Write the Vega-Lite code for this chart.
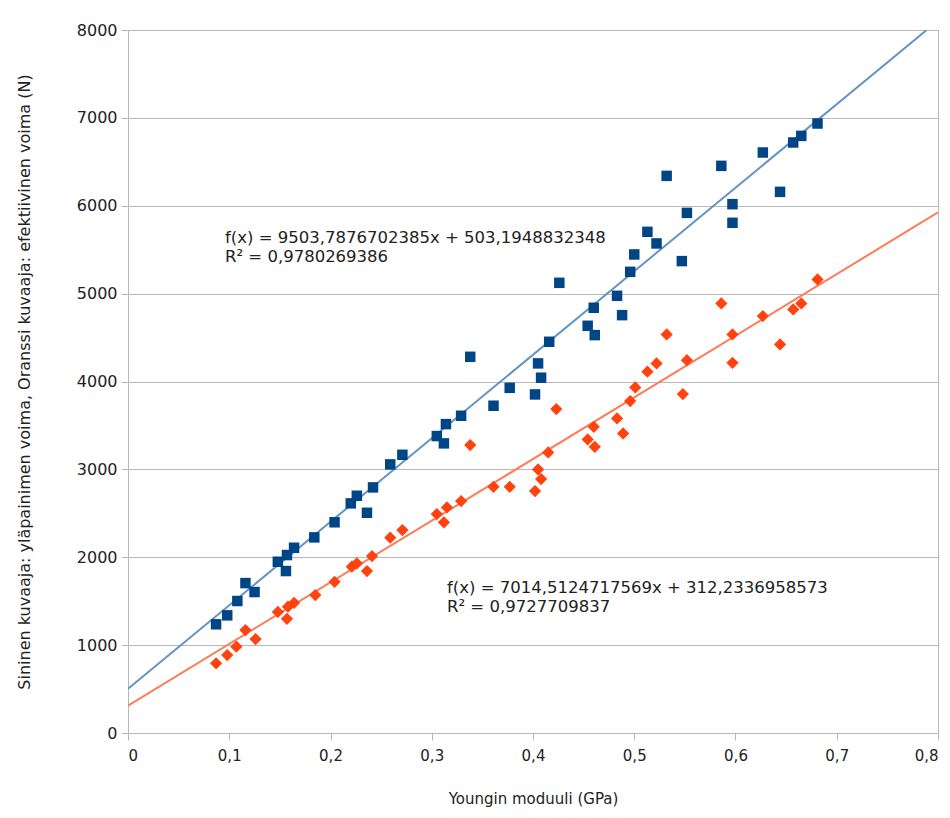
{
  "$schema": "https://vega.github.io/schema/vega-lite/v6.json",
  "width": 810,
  "height": 703,
  "autosize": {"type": "none"},
  "padding": {"left": 128, "top": 30, "right": 12, "bottom": 85},
  "background": "white",
  "config": {
    "view": {"stroke": "#b8b8b8", "strokeWidth": 1},
    "font": "DejaVu Sans",
    "axis": {
      "domainColor": "#b8b8b8",
      "tickColor": "#b8b8b8",
      "gridColor": "#b8b8b8",
      "labelColor": "#222222",
      "titleColor": "#222222",
      "labelFont": "DejaVu Sans",
      "titleFont": "DejaVu Sans",
      "labelFontSize": 15,
      "titleFontSize": 15,
      "titleFontWeight": "normal",
      "tickSize": 7
    }
  },
  "datasets": {
    "mittaukset": [
      {"E": 0.087, "F": 1237, "sarja": "Sininen"},
      {"E": 0.098, "F": 1339, "sarja": "Sininen"},
      {"E": 0.108, "F": 1502, "sarja": "Sininen"},
      {"E": 0.116, "F": 1706, "sarja": "Sininen"},
      {"E": 0.125, "F": 1604, "sarja": "Sininen"},
      {"E": 0.148, "F": 1949, "sarja": "Sininen"},
      {"E": 0.157, "F": 2025, "sarja": "Sininen"},
      {"E": 0.156, "F": 1843, "sarja": "Sininen"},
      {"E": 0.164, "F": 2108, "sarja": "Sininen"},
      {"E": 0.184, "F": 2226, "sarja": "Sininen"},
      {"E": 0.204, "F": 2398, "sarja": "Sininen"},
      {"E": 0.220, "F": 2613, "sarja": "Sininen"},
      {"E": 0.226, "F": 2700, "sarja": "Sininen"},
      {"E": 0.236, "F": 2506, "sarja": "Sininen"},
      {"E": 0.242, "F": 2795, "sarja": "Sininen"},
      {"E": 0.259, "F": 3057, "sarja": "Sininen"},
      {"E": 0.271, "F": 3166, "sarja": "Sininen"},
      {"E": 0.305, "F": 3379, "sarja": "Sininen"},
      {"E": 0.312, "F": 3296, "sarja": "Sininen"},
      {"E": 0.314, "F": 3515, "sarja": "Sininen"},
      {"E": 0.329, "F": 3610, "sarja": "Sininen"},
      {"E": 0.338, "F": 4281, "sarja": "Sininen"},
      {"E": 0.361, "F": 3724, "sarja": "Sininen"},
      {"E": 0.377, "F": 3928, "sarja": "Sininen"},
      {"E": 0.402, "F": 3853, "sarja": "Sininen"},
      {"E": 0.405, "F": 4206, "sarja": "Sininen"},
      {"E": 0.408, "F": 4043, "sarja": "Sininen"},
      {"E": 0.416, "F": 4452, "sarja": "Sininen"},
      {"E": 0.426, "F": 5123, "sarja": "Sininen"},
      {"E": 0.454, "F": 4634, "sarja": "Sininen"},
      {"E": 0.460, "F": 4839, "sarja": "Sininen"},
      {"E": 0.461, "F": 4528, "sarja": "Sininen"},
      {"E": 0.483, "F": 4975, "sarja": "Sininen"},
      {"E": 0.488, "F": 4755, "sarja": "Sininen"},
      {"E": 0.496, "F": 5248, "sarja": "Sininen"},
      {"E": 0.500, "F": 5446, "sarja": "Sininen"},
      {"E": 0.513, "F": 5703, "sarja": "Sininen"},
      {"E": 0.522, "F": 5571, "sarja": "Sininen"},
      {"E": 0.532, "F": 6340, "sarja": "Sininen"},
      {"E": 0.547, "F": 5370, "sarja": "Sininen"},
      {"E": 0.552, "F": 5919, "sarja": "Sininen"},
      {"E": 0.586, "F": 6454, "sarja": "Sininen"},
      {"E": 0.597, "F": 6018, "sarja": "Sininen"},
      {"E": 0.597, "F": 5806, "sarja": "Sininen"},
      {"E": 0.627, "F": 6606, "sarja": "Sininen"},
      {"E": 0.644, "F": 6158, "sarja": "Sininen"},
      {"E": 0.657, "F": 6720, "sarja": "Sininen"},
      {"E": 0.665, "F": 6795, "sarja": "Sininen"},
      {"E": 0.681, "F": 6936, "sarja": "Sininen"},
      {"E": 0.087, "F": 793, "sarja": "Oranssi"},
      {"E": 0.098, "F": 887, "sarja": "Oranssi"},
      {"E": 0.107, "F": 982, "sarja": "Oranssi"},
      {"E": 0.116, "F": 1172, "sarja": "Oranssi"},
      {"E": 0.126, "F": 1069, "sarja": "Oranssi"},
      {"E": 0.148, "F": 1377, "sarja": "Oranssi"},
      {"E": 0.157, "F": 1300, "sarja": "Oranssi"},
      {"E": 0.158, "F": 1437, "sarja": "Oranssi"},
      {"E": 0.164, "F": 1482, "sarja": "Oranssi"},
      {"E": 0.185, "F": 1570, "sarja": "Oranssi"},
      {"E": 0.204, "F": 1721, "sarja": "Oranssi"},
      {"E": 0.221, "F": 1892, "sarja": "Oranssi"},
      {"E": 0.226, "F": 1931, "sarja": "Oranssi"},
      {"E": 0.236, "F": 1843, "sarja": "Oranssi"},
      {"E": 0.241, "F": 2014, "sarja": "Oranssi"},
      {"E": 0.259, "F": 2222, "sarja": "Oranssi"},
      {"E": 0.271, "F": 2309, "sarja": "Oranssi"},
      {"E": 0.305, "F": 2491, "sarja": "Oranssi"},
      {"E": 0.312, "F": 2397, "sarja": "Oranssi"},
      {"E": 0.315, "F": 2567, "sarja": "Oranssi"},
      {"E": 0.329, "F": 2639, "sarja": "Oranssi"},
      {"E": 0.338, "F": 3276, "sarja": "Oranssi"},
      {"E": 0.361, "F": 2802, "sarja": "Oranssi"},
      {"E": 0.377, "F": 2802, "sarja": "Oranssi"},
      {"E": 0.402, "F": 2753, "sarja": "Oranssi"},
      {"E": 0.405, "F": 3000, "sarja": "Oranssi"},
      {"E": 0.408, "F": 2890, "sarja": "Oranssi"},
      {"E": 0.415, "F": 3193, "sarja": "Oranssi"},
      {"E": 0.423, "F": 3686, "sarja": "Oranssi"},
      {"E": 0.454, "F": 3341, "sarja": "Oranssi"},
      {"E": 0.460, "F": 3485, "sarja": "Oranssi"},
      {"E": 0.461, "F": 3257, "sarja": "Oranssi"},
      {"E": 0.483, "F": 3580, "sarja": "Oranssi"},
      {"E": 0.489, "F": 3409, "sarja": "Oranssi"},
      {"E": 0.496, "F": 3777, "sarja": "Oranssi"},
      {"E": 0.501, "F": 3933, "sarja": "Oranssi"},
      {"E": 0.513, "F": 4111, "sarja": "Oranssi"},
      {"E": 0.522, "F": 4206, "sarja": "Oranssi"},
      {"E": 0.532, "F": 4536, "sarja": "Oranssi"},
      {"E": 0.548, "F": 3857, "sarja": "Oranssi"},
      {"E": 0.552, "F": 4243, "sarja": "Oranssi"},
      {"E": 0.586, "F": 4889, "sarja": "Oranssi"},
      {"E": 0.597, "F": 4536, "sarja": "Oranssi"},
      {"E": 0.597, "F": 4213, "sarja": "Oranssi"},
      {"E": 0.627, "F": 4744, "sarja": "Oranssi"},
      {"E": 0.644, "F": 4422, "sarja": "Oranssi"},
      {"E": 0.657, "F": 4820, "sarja": "Oranssi"},
      {"E": 0.665, "F": 4889, "sarja": "Oranssi"},
      {"E": 0.681, "F": 5162, "sarja": "Oranssi"}
    ],
    "trendit": [
      {"E": 0, "F": 503.1948832348, "sarja": "Sininen"},
      {"E": 0.78884, "F": 8000, "sarja": "Sininen"},
      {"E": 0, "F": 312.2336958573, "sarja": "Oranssi"},
      {"E": 0.8, "F": 5923.8436732628, "sarja": "Oranssi"}
    ],
    "yhtalot": [
      {"E": 0.0958, "F": 5576, "teksti": "f(x) = 9503,7876702385x + 503,1948832348"},
      {"E": 0.0958, "F": 5360, "teksti": "R² = 0,9780269386"},
      {"E": 0.3151, "F": 1593, "teksti": "f(x) = 7014,5124717569x + 312,2336958573"},
      {"E": 0.3151, "F": 1377, "teksti": "R² = 0,9727709837"}
    ]
  },
  "encoding": {
    "x": {
      "field": "E",
      "type": "quantitative",
      "scale": {"domain": [0, 0.8], "nice": false, "zero": true},
      "axis": {
        "title": "Youngin moduuli (GPa)",
        "values": [0, 0.1, 0.2, 0.3, 0.4, 0.5, 0.6, 0.7, 0.8],
        "labelExpr": "datum.value == 0 ? '0' : replace(format(datum.value, '.1f'), '.', ',')",
        "grid": false,
        "labelPadding": 8,
        "titlePadding": 28
      }
    },
    "y": {
      "field": "F",
      "type": "quantitative",
      "scale": {"domain": [0, 8000], "nice": false},
      "axis": {
        "title": "Sininen kuvaaja: yläpainimen voima, Oranssi kuvaaja: efektiivinen voima (N)",
        "titleFontSize": 16,
        "labelFontSize": 16,
        "values": [0, 1000, 2000, 3000, 4000, 5000, 6000, 7000, 8000],
        "format": "d",
        "grid": true,
        "labelPadding": 4,
        "titlePadding": 44
      }
    }
  },
  "layer": [
    {
      "data": {"name": "trendit"},
      "transform": [{"filter": "datum.sarja == 'Sininen'"}],
      "mark": {"type": "line", "color": "#6693c4", "strokeWidth": 2, "clip": true},
      "encoding": {}
    },
    {
      "data": {"name": "trendit"},
      "transform": [{"filter": "datum.sarja == 'Oranssi'"}],
      "mark": {"type": "line", "color": "#ff7b58", "strokeWidth": 2, "clip": true},
      "encoding": {}
    },
    {
      "data": {"name": "mittaukset"},
      "transform": [{"filter": "datum.sarja == 'Sininen'"}],
      "mark": {"type": "point", "shape": "square", "filled": true, "color": "#004586", "opacity": 1, "size": 110}
    },
    {
      "data": {"name": "mittaukset"},
      "transform": [{"filter": "datum.sarja == 'Oranssi'"}],
      "mark": {"type": "point", "shape": "diamond", "filled": true, "color": "#ff420e", "opacity": 1, "size": 150}
    },
    {
      "data": {"name": "yhtalot"},
      "mark": {"type": "text", "align": "left", "baseline": "alphabetic", "font": "DejaVu Sans", "fontSize": 16.5, "color": "#222222"},
      "encoding": {"text": {"field": "teksti"}}
    }
  ]
}
